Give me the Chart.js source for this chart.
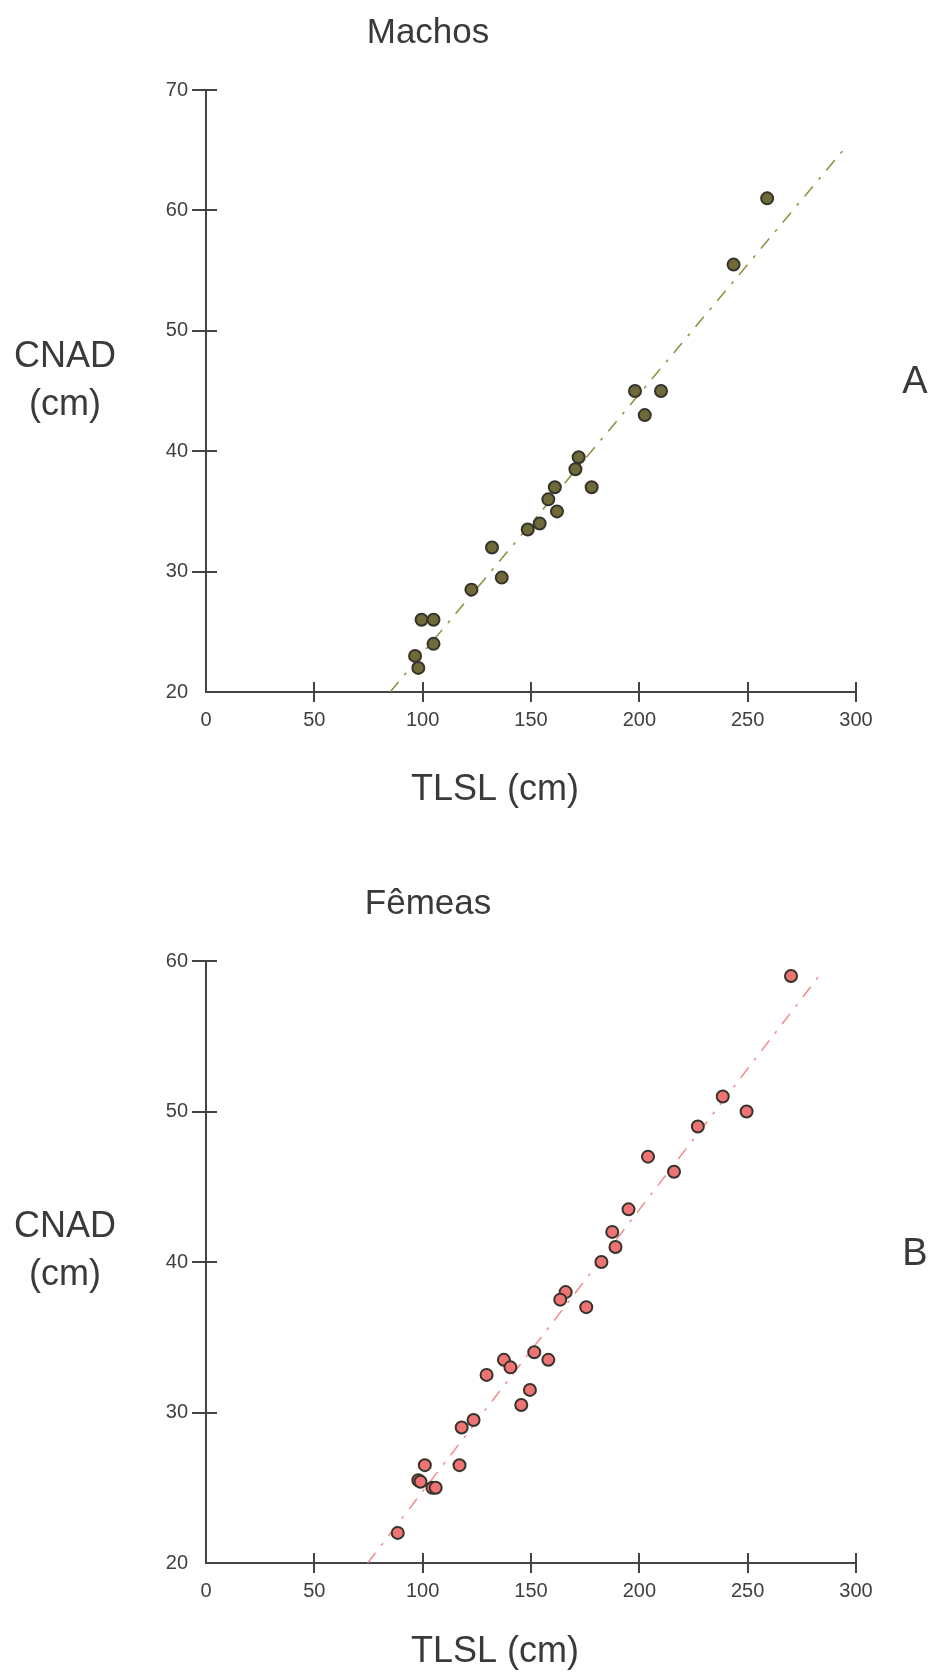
<!DOCTYPE html>
<html>
<head>
<meta charset="utf-8">
<script src="https://cdn.jsdelivr.net/npm/chart.js@4.4.0/dist/chart.umd.min.js"></script>
<style>
    html, body { margin: 0; padding: 0; background: #fff; }
    #wrap { position: relative; width: 934px; height: 1679px; }
    canvas { position: absolute; left: 0; }
</style>
</head>
<body>
<div id="wrap">
    <canvas id="machosChart" width="934" height="840" style="top:0"></canvas>
    <canvas id="femeasChart" width="934" height="839" style="top:840px"></canvas>
</div>
<script>
// x axis (TLSL, cm)
const xMin = 0;
const xMax = 300;
const xStep = 50;

// Machos
const machosTLSL = [259, 243.5, 198, 210, 202.5, 172, 170.5, 178, 161, 158, 162, 154, 148.5, 132, 136.5, 122.5, 99.5, 105, 105, 96.5, 98];
const machosCNAD = [61, 55.5, 45, 45, 43, 39.5, 38.5, 37, 37, 36, 35, 34, 33.5, 32, 29.5, 28.5, 26, 26, 24, 23, 22];
const machosTrendX = [85, 295];
const machosTrendY = [20, 65.2];
const machosYMin = 20;
const machosYMax = 70;

// Fêmeas
const femeasTLSL = [270, 238.5, 249.5, 227, 204, 216, 195, 187.5, 189, 182.5, 166, 163.5, 175.5, 151.5, 137.5, 140.5, 158, 129.5, 149.5, 145.5, 123.5, 118, 101, 117, 98, 99, 104.5, 106, 88.5];
const femeasCNAD = [59, 51, 50, 49, 47, 46, 43.5, 42, 41, 40, 38, 37.5, 37, 34, 33.5, 33, 33.5, 32.5, 31.5, 30.5, 29.5, 29, 26.5, 26.5, 25.5, 25.4, 25, 25, 22];
const femeasTrendX = [74.6, 284.5];
const femeasTrendY = [20, 59.3];
const femeasYMin = 20;
const femeasYMax = 60;

const FONT = '"Liberation Sans", Arial, sans-serif';
const INK = '#3a3a3a';

// axis lines, crossing tick marks and the free text around each plot
const framePlugin = {
    id: 'frame',
    beforeDatasetsDraw(chart) {
        const ctx = chart.ctx;
        const {left, right, top, bottom} = chart.chartArea;
        const xs = chart.scales.x;
        const ys = chart.scales.y;
        ctx.save();
        ctx.strokeStyle = '#444';
        ctx.lineWidth = 2;
        ctx.beginPath();
        ctx.moveTo(left, top);
        ctx.lineTo(left, bottom);
        ctx.lineTo(right, bottom);
        ys.ticks.forEach(t => {
            if (t.value === ys.min) return;
            const y = Math.round(ys.getPixelForValue(t.value));
            ctx.moveTo(left - 14, y);
            ctx.lineTo(left + 11, y);
        });
        xs.ticks.forEach(t => {
            if (t.value === xs.min) return;
            const x = Math.round(xs.getPixelForValue(t.value));
            ctx.moveTo(x, bottom - 10);
            ctx.lineTo(x, bottom + 10);
        });
        ctx.stroke();
        ctx.restore();
    },
    afterDraw(chart, args, opts) {
        const ctx = chart.ctx;
        ctx.save();
        ctx.fillStyle = INK;
        ctx.textAlign = 'center';
        ctx.textBaseline = 'alphabetic';
        ctx.font = '35px ' + FONT;
        ctx.fillText(opts.title, 428, opts.titleY);
        ctx.font = '36px ' + FONT;
        ctx.fillText('CNAD', 65, opts.yTitleY);
        ctx.fillText('(cm)', 65, opts.yTitleY + 48);
        ctx.fillText('TLSL (cm)', 495, opts.xTitleY);
        ctx.font = '38px ' + FONT;
        ctx.fillText(opts.letter, 915, opts.letterY);
        ctx.restore();
    }
};

function makeChart(id, xs, ys, trendX, trendY, yMin, yMax, fill, line, layout, text) {
    const ctx = document.getElementById(id).getContext('2d');
    return new Chart(ctx, {
        type: 'scatter',
        data: {
            datasets: [{
                data: xs.map((x, i) => ({x: x, y: ys[i]})),
                pointStyle: 'circle',
                pointRadius: 6,
                pointBackgroundColor: fill,
                pointBorderColor: '#34342c',
                pointBorderWidth: 2
            }, {
                type: 'line',
                data: trendX.map((x, i) => ({x: x, y: trendY[i]})),
                borderColor: line,
                borderWidth: 1.5,
                borderDash: [13, 9, 3, 9],
                pointRadius: 0,
                fill: false
            }]
        },
        options: {
            responsive: false,
            animation: false,
            layout: {
                padding: {left: 0, right: 78, top: layout.top, bottom: 0}
            },
            scales: {
                x: {
                    type: 'linear',
                    min: xMin,
                    max: xMax,
                    grid: {display: false, drawTicks: false},
                    border: {display: false},
                    ticks: {
                        stepSize: xStep,
                        padding: 16,
                        color: '#404040',
                        font: {family: FONT, size: 20}
                    },
                    afterFit: s => { s.height = layout.xHeight; }
                },
                y: {
                    type: 'linear',
                    min: yMin,
                    max: yMax,
                    grid: {display: false, drawTicks: false},
                    border: {display: false},
                    ticks: {
                        stepSize: 10,
                        padding: 18,
                        color: '#404040',
                        font: {family: FONT, size: 20}
                    },
                    afterFit: s => { s.width = 206; }
                }
            },
            plugins: {
                legend: {display: false},
                tooltip: {enabled: false},
                frame: text
            }
        },
        plugins: [framePlugin]
    });
}

makeChart('machosChart', machosTLSL, machosCNAD, machosTrendX, machosTrendY,
    machosYMin, machosYMax, '#6f6a37', '#8c8f3e',
    {top: 90, xHeight: 148},
    {title: 'Machos', titleY: 43, yTitleY: 367, xTitleY: 800, letter: 'A', letterY: 393});

makeChart('femeasChart', femeasTLSL, femeasCNAD, femeasTrendX, femeasTrendY,
    femeasYMin, femeasYMax, '#f07373', '#f28a8a',
    {top: 121, xHeight: 116},
    {title: 'Fêmeas', titleY: 914 - 840, yTitleY: 1237 - 840, xTitleY: 1662 - 840, letter: 'B', letterY: 1265 - 840});
</script>
</body>
</html>
